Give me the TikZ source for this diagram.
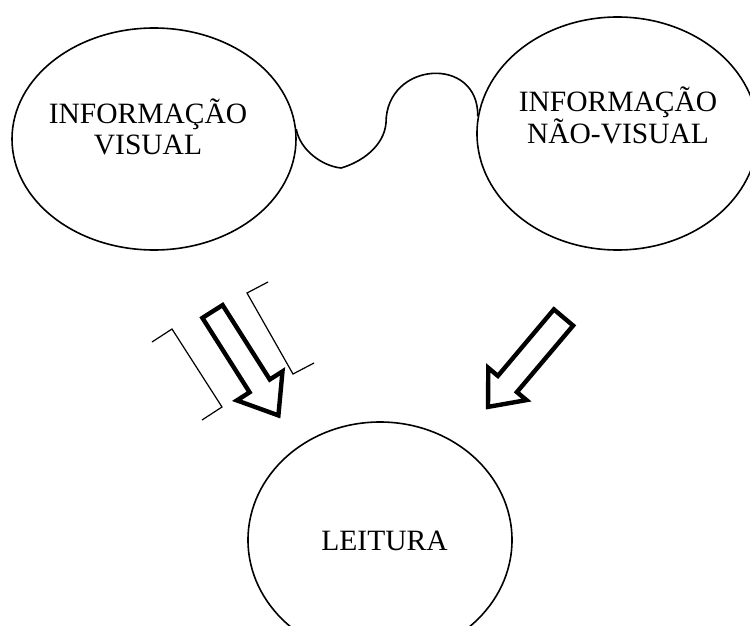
\documentclass[tikz,border=0pt]{standalone}
\usepackage{fontspec}
\setmainfont{Liberation Serif}
\usetikzlibrary{shapes.geometric}
\begin{document}
\begin{tikzpicture}[x=1pt,y=-1pt,
  bubble/.style={draw, ellipse, line width=1.6pt, inner sep=0pt},
  lbl/.style={align=center, font=\fontsize{29.5}{30.5}\selectfont, inner sep=0pt},
  blockarrow/.style={draw, line width=4.4pt, line join=miter, fill=white},
  bracketline/.style={draw, line width=1.2pt},
  wave/.style={draw, line width=1.6pt}]
\useasboundingbox (0,0) rectangle (750,626);
\clip (0,0) rectangle (750,626);
% ellipses
\node[bubble, minimum width=284pt, minimum height=222pt] (vis) at (154,139) {};
\node[bubble, minimum width=281pt, minimum height=233pt] (nvis) at (617.5,133.5) {};
\node[bubble, minimum width=264pt, minimum height=236pt] (leit) at (380,540) {};
% texts
\node[lbl] (vistxt) at (148,127) {INFORMAÇÃO\\VISUAL};
\node[lbl] (nvistxt) at (618,115) {INFORMAÇÃO\\NÃO-VISUAL};
\node[lbl, anchor=base] (leittxt) at (384.5,550) {LEITURA};
% wave connector between the two upper ellipses
\path[wave] (vis.4.5) .. controls (300,150) and (322,166) .. (341,168)
  .. controls (362,162) and (384,146) .. (386,123)
  .. controls (386,61) and (479,55) .. (nvis.173);
% block arrows
\path[blockarrow] (202.4,317.9) -- (222.6,305.1) -- (269.8,379.5) -- (282.5,371.4)
  -- (278.4,415.4) -- (236.9,400.4) -- (249.6,392.3) -- cycle;
\path[blockarrow] (553.9,309.4) -- (573.1,325.6) -- (516.9,392.1) -- (526.5,400.1)
  -- (488.0,406.9) -- (488.3,367.9) -- (497.9,375.9) -- cycle;
% brackets
\path[bracketline] (152,342) -- (172,329) -- (222,407) -- (202,420);
\path[bracketline] (268,282) -- (247,293) -- (293,374) -- (314,363);
\end{tikzpicture}
\end{document}
